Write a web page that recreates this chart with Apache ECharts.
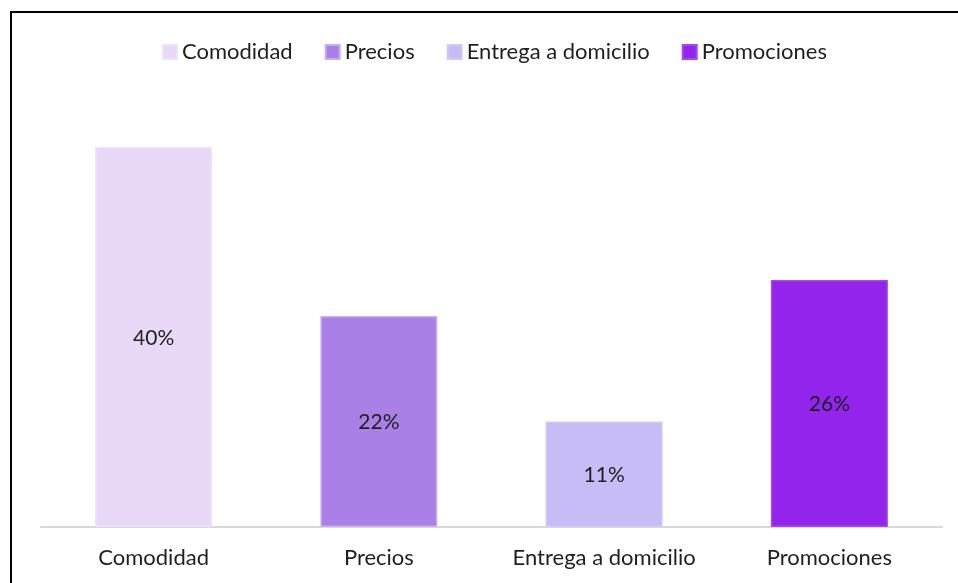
<!DOCTYPE html>
<html><head><meta charset="utf-8">
<script src="https://cdn.jsdelivr.net/npm/echarts@6/dist/echarts.min.js"></script>
<style>
html,body{margin:0;padding:0;background:#fff;}
#c{width:958px;height:583px;position:relative;}
#frame{position:absolute;left:10px;top:11px;width:948px;height:572px;border-left:2px solid #000;border-top:2px solid #000;box-sizing:border-box;pointer-events:none;}
</style></head>
<body>
<div style="position:relative;width:958px;height:583px;">
<div id="c"></div>
<div id="frame"></div>
</div>
<script>
var categories = ['Comodidad', 'Precios', 'Entrega a domicilio', 'Promociones'];
var values = [40, 22.2, 11.1, 26];
var labels = ['40%', '22%', '11%', '26%'];
var colors = ['#E8D9F8', '#AA80E6', '#C8BCF6', '#9224EC'];
var borders = ['#EDE3FA', '#C9AEF0', '#D3C9F8', '#A548F0'];

var chart = echarts.init(document.getElementById('c'));
var series = categories.map(function (name, i) {
  var d = categories.map(function (c, j) { return j === i ? values[i] : '-'; });
  return {
    name: name, type: 'bar', stack: 'all', data: d, barWidth: 117,
    itemStyle: { color: colors[i], borderColor: borders[i], borderWidth: 1.5 },
    label: { show: true, position: 'inside', formatter: function () { return labels[i]; },
      fontFamily: 'Lato', fontSize: 21, color: '#1f1f1f', offset: [0, 1] }
  };
});
chart.setOption({
  animation: false,
  legend: { left: 157, top: 36, itemWidth: 14, itemHeight: 14, itemGap: 32, icon: 'rect',
    textStyle: { fontFamily: 'Lato', fontSize: 22, color: '#1f1f1f' } },
  grid: { left: 41, right: 16, top: 52, bottom: 56 },
  xAxis: { type: 'category', data: categories,
    axisLine: { lineStyle: { color: '#D9D9D9', width: 2 } }, axisTick: { show: false },
    axisLabel: { interval: 0, margin: 20, fontFamily: 'Lato', fontSize: 22, color: '#1f1f1f' } },
  yAxis: { type: 'value', min: 0, max: 50, show: false, splitLine: { show: false } },
  series: series
});
</script>
</body></html>
